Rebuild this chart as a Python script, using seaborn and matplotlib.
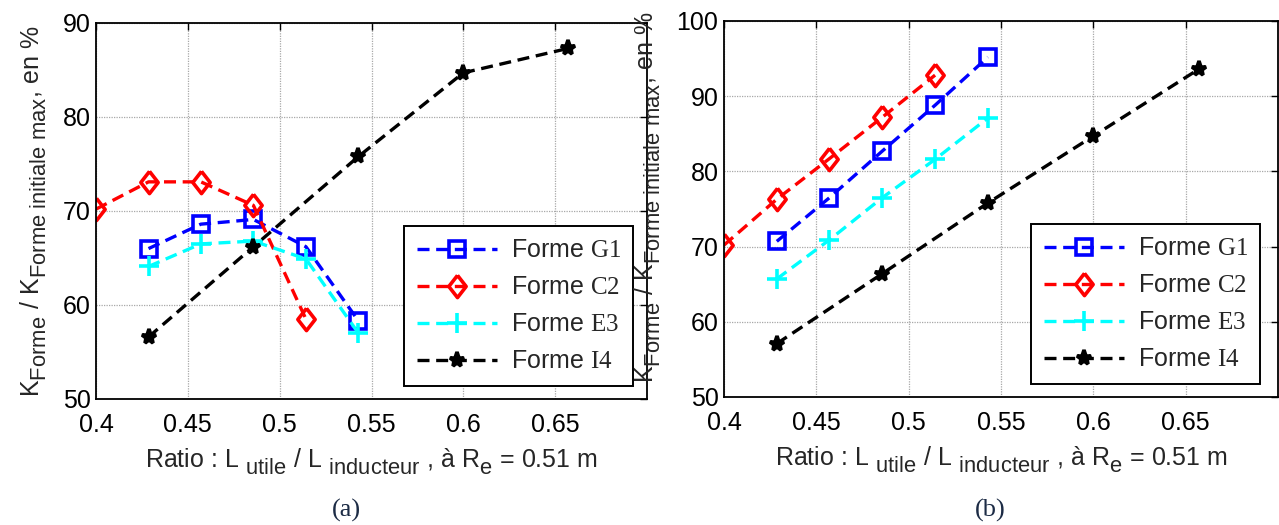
import numpy as np
import pandas as pd
import matplotlib
matplotlib.use("Agg")
import matplotlib.pyplot as plt
import matplotlib._mathtext as mathtext_internal
import seaborn as sns

# ratio L_utile / L_inducteur, (a) values
g1_a_x = [0.4286, 0.4571, 0.4857, 0.5143, 0.5429]
g1_a = [66.0, 68.6, 69.1, 66.2, 58.3]
c2_a_x = [0.4, 0.4286, 0.4571, 0.4857, 0.5143]
c2_a = [70.2, 73.1, 73.1, 70.6, 58.5]
e3_a_x = [0.4286, 0.4571, 0.4857, 0.5143, 0.5429]
e3_a = [64.1, 66.5, 66.8, 64.9, 57.0]
i4_a_x = [0.4286, 0.4857, 0.5429, 0.6, 0.6571]
i4_a = [56.6, 66.2, 75.8, 84.7, 87.3]

# (b)
g1_b_x = [0.4286, 0.4571, 0.4857, 0.5143, 0.5429]
g1_b = [70.7, 76.5, 82.7, 88.8, 95.2]
c2_b_x = [0.4, 0.4286, 0.4571, 0.4857, 0.5143]
c2_b = [70.2, 76.3, 81.7, 87.2, 92.8]
e3_b_x = [0.4286, 0.4571, 0.4857, 0.5143, 0.5429]
e3_b = [65.7, 70.9, 76.5, 81.6, 87.1]
i4_b_x = [0.4286, 0.4857, 0.5429, 0.6, 0.6571]
i4_b = [57.1, 66.4, 75.8, 84.7, 93.6]

names = ["G1", "C2", "E3", "I4"]
colors = ["#0000ff", "#ff0000", "#00ffff", "#000000"]

sns.set_style("white")
plt.rcParams['font.family'] = ['Liberation Sans', 'DejaVu Sans']
plt.rcParams['mathtext.fontset'] = 'custom'
plt.rcParams['mathtext.sf'] = 'Liberation Sans'
plt.rcParams['mathtext.rm'] = 'Liberation Serif'
plt.rcParams['mathtext.it'] = 'Liberation Sans:italic'
# matlab style subscripts: nearly full size and dropped lower
mathtext_internal.SHRINK_FACTOR = 0.88
mathtext_internal.FontConstantsBase.sub1 = 0.55

diamond = [(0, 1), (0.78, 0), (0, -1), (-0.78, 0), (0, 1)]
styles = {
    "G1": dict(marker="s", markersize=11, markerfacecolor="none"),
    "C2": dict(marker=diamond, markersize=16, markerfacecolor="none"),
    "E3": dict(marker="+", markersize=14),
    "I4": dict(marker="*", markersize=11),
}

fig = plt.figure(figsize=(12.79, 5.25), dpi=100)
ax1 = fig.add_axes([96 / 1279, 1 - 399 / 525, (647 - 96) / 1279, 376 / 525])
ax2 = fig.add_axes([724 / 1279, 1 - 397 / 525, (1278 - 724) / 1279, 376 / 525])

panels = [
    (ax1, [(g1_a_x, g1_a), (c2_a_x, c2_a), (e3_a_x, e3_a), (i4_a_x, i4_a)]),
    (ax2, [(g1_b_x, g1_b), (c2_b_x, c2_b), (e3_b_x, e3_b), (i4_b_x, i4_b)]),
]

for ax, series in panels:
    for name, col, (xs, ys) in zip(names, colors, series):
        df = pd.DataFrame({"ratio": xs, "k": ys})
        sns.lineplot(data=df, x="ratio", y="k", ax=ax, color=col,
                     linewidth=2.4, markeredgewidth=2.6, markeredgecolor=col,
                     dashes=False, linestyle=(0, (3.6, 2.0)),
                     label="Forme $\\mathrm{" + name + "}$", **styles[name])

for ax, ymax in [(ax1, 90), (ax2, 100)]:
    ax.set_xlim(0.4, 0.7)
    ax.set_ylim(50, ymax)
    ax.set_xticks([0.4, 0.45, 0.5, 0.55, 0.6, 0.65])
    ax.set_xticklabels(["0.4", "0.45", "0.5", "0.55", "0.6", "0.65"])
    ax.set_yticks(np.arange(50, ymax + 1, 10))
    ax.grid(True, color="#a8a8a8", linewidth=0.9, linestyle=(0, (1, 1)))
    ax.tick_params(direction="in", length=5, width=1, top=True, right=True,
                   labelsize=18, colors="black")
    ax.tick_params(axis="x", pad=10)
    ax.tick_params(axis="y", pad=4)
    for sp in ax.spines.values():
        sp.set_visible(True)
        sp.set_color("black")
        sp.set_linewidth(1.3)
    ax.set_xlabel("Ratio : L $_{\\mathsf{utile}}$ / L $_{\\mathsf{inducteur}}$ , à R$_{\\mathsf{e}}$ = 0.51 m",
                  fontsize=18)
    ax.set_ylabel("K$_{\\mathsf{Forme}}$ / K$_{\\mathsf{Forme\\ initiale\\ max}}$, en %", fontsize=18)
    ax.xaxis.set_label_coords(0.5, -0.125)
    ax.legend(loc="lower right", bbox_to_anchor=(0.975, 0.035) if ax is ax1 else (0.968, 0.035),
              fontsize=18, frameon=True, fancybox=False, framealpha=1,
              edgecolor="black", handlelength=3.2, handletextpad=0.55,
              labelspacing=0.52, borderpad=0.5, numpoints=1, borderaxespad=0)
    ax.get_legend().get_frame().set_linewidth(1.4)

ax1.yaxis.set_label_coords(-0.085, 0.5)
ax2.yaxis.set_label_coords(-0.11, 0.53)

fig.text(346 / 1279, 1 - 510 / 525, "(a)", fontsize=19, family="Liberation Serif",
         color="#1c2b45", ha="center", va="center")
fig.text(990 / 1279, 1 - 510 / 525, "(b)", fontsize=19, family="Liberation Serif",
         color="#1c2b45", ha="center", va="center")

fig.savefig("out.png", dpi=100)
